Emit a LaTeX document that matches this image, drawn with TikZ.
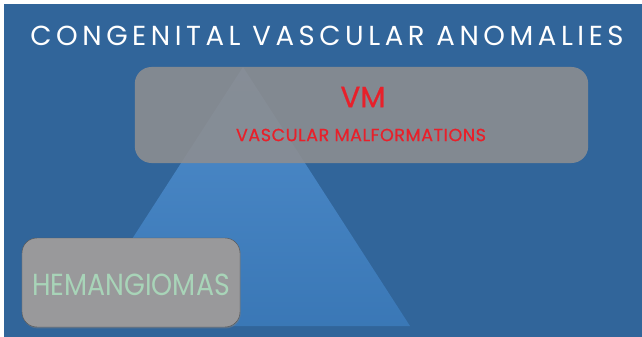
\documentclass[tikz,border=0pt]{standalone}
\usepackage{fontspec}
\setmainfont{Poppins}
\newfontfamily\titlefont{Poppins}[LetterSpace=16.5]
\newfontfamily\labelfont{Poppins}[LetterSpace=3, FakeBold=0.6]
\newfontfamily\headfont{Poppins}[FakeBold=0.8]
\newfontfamily\narrowfont{Poppins}[FakeStretch=0.88]
\usetikzlibrary{shadows}
\definecolor{slideblue}{HTML}{31659A}
\definecolor{pyramidblue}{HTML}{3F82C6}
\definecolor{boxgrey}{HTML}{8E8E90}
\definecolor{vmred}{HTML}{E8202A}
\definecolor{hemgreen}{HTML}{A8D4B8}

\begin{document}
\begin{tikzpicture}[x=0.03cm, y=-0.03cm,
  greybox/.style={rectangle, rounded corners=0.5cm, fill=boxgrey, fill opacity=0.88, draw=none},
  hembox/.style={rectangle, rounded corners=0.45cm, fill=boxgrey!90!white, draw=gray!70!black, thin,
    drop shadow={shadow xshift=0.6pt, shadow yshift=-1.2pt, opacity=0.5}}]
\useasboundingbox (0,0) rectangle (642,337);
\fill[white] (0,0) rectangle (642,337);
\fill[slideblue] (4,4) rectangle (642,337);
% heading
\node[text=white, font=\titlefont\fontsize{23.5}{28}\selectfont] (title) at (327,36) {CONGENITAL VASCULAR ANOMALIES};
% pyramid
\shade[top color=pyramidblue!92!white, bottom color=pyramidblue!92!black] (243,67) -- (410,326) -- (76,326) -- cycle;
% vascular malformations
\node[greybox, minimum width=13.6cm, minimum height=2.88cm] (vmbox) at (361.5,115) {};
\node[text=vmred, font=\headfont\fontsize{25}{30}\selectfont] (vm) at (363,97) {VM};
\node[text=vmred, font=\labelfont\fontsize{15}{18}\selectfont] (vmname) at (361,135) {VASCULAR MALFORMATIONS};
% hemangiomas
\node[hembox, minimum width=6.54cm, minimum height=2.67cm] (hembox) at (131,282.5) {};
\node[text=hemgreen, font=\narrowfont\fontsize{26}{30}\selectfont] (hem) at (131,285) {HEMANGIOMAS};
\end{tikzpicture}
\end{document}
